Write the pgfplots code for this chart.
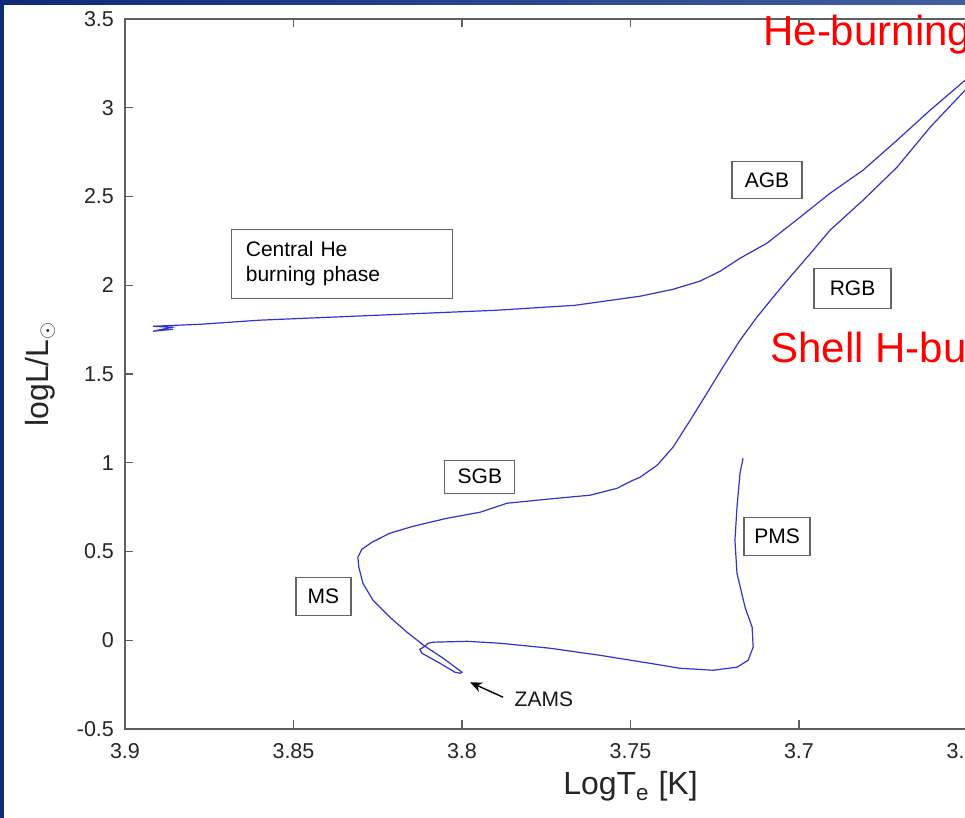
\documentclass[border=0pt]{standalone}
\usepackage{pgfplots}
\pgfplotsset{compat=1.18}
\usepackage{fontspec}
\setmainfont{Liberation Sans}
\usetikzlibrary{arrows.meta}
\definecolor{slideblue}{RGB}{14,44,118}
\definecolor{slideblue2}{RGB}{64,94,160}
\definecolor{trackblue}{RGB}{50,50,205}
\definecolor{axisgray}{RGB}{95,95,95}
\definecolor{boxgray}{RGB}{100,100,100}

\pgfplotstableread{
x y
3.7166 1.025
3.7175 0.941
3.7184 0.749
3.7190 0.563
3.7184 0.377
3.7160 0.186
3.7139 0.073
3.7136 -0.039
3.7151 -0.113
3.7184 -0.152
3.7255 -0.169
3.7353 -0.158
3.7442 -0.130
3.7590 -0.085
3.7739 -0.045
3.7887 -0.017
3.7985 -0.006
3.8086 -0.011
3.8101 -0.017
3.8110 -0.034
3.8125 -0.051
3.8119 -0.073
3.8065 -0.130
3.8021 -0.180
3.8006 -0.186
3.8000 -0.180
3.8012 -0.163
3.8056 -0.101
3.8101 -0.045
3.8110 -0.034
3.8163 0.045
3.8214 0.130
3.8264 0.225
3.8294 0.321
3.8306 0.411
3.8309 0.468
3.8297 0.513
3.8267 0.552
3.8214 0.603
3.8145 0.642
3.8045 0.687
3.7947 0.721
3.7866 0.772
3.7718 0.800
3.7620 0.817
3.7540 0.856
3.7493 0.901
3.7472 0.918
3.7442 0.958
3.7421 0.986
3.7374 1.087
3.7323 1.239
3.7273 1.392
3.7226 1.538
3.7175 1.690
3.7125 1.820
3.7077 1.932
3.7027 2.045
3.6958 2.197
3.6908 2.310
3.6810 2.479
3.6709 2.665
3.6611 2.890
3.6507 3.099
3.6433 3.240
3.6374 3.350
}\trackone

\pgfplotstableread{
x y
3.8858 1.752
3.8917 1.741
3.8861 1.763
3.8917 1.769
3.8777 1.780
3.8602 1.803
3.8252 1.831
3.7899 1.859
3.7665 1.887
3.7472 1.938
3.7374 1.977
3.7294 2.023
3.7234 2.079
3.7175 2.152
3.7095 2.237
3.6997 2.383
3.6908 2.518
3.6810 2.648
3.6709 2.817
3.6611 2.986
3.6507 3.155
3.6404 3.313
}\tracktwo

\begin{document}
\begin{tikzpicture}[
  lbl/.style={draw=boxgray, line width=0.6pt, fill=white, text=black,
    font=\fontsize{10.5}{12.5}\selectfont, inner sep=0pt, anchor=center}]
\useasboundingbox (-62.5pt,-44.5pt) rectangle (420pt,364.5pt);
\clip (-62.5pt,-44.5pt) rectangle (420pt,364.5pt);
\shade[left color=slideblue, right color=slideblue2] (-62.5pt,-44.5pt) rectangle (420pt,364.5pt);
\fill[white] (-60.5pt,-44.5pt) rectangle (420pt,362pt);
\begin{axis}[
  at={(0pt,0pt)}, anchor=south west,
  scale only axis, width=505.5pt, height=355pt,
  x dir=reverse,
  xmin=3.6, xmax=3.9, ymin=-0.5, ymax=3.5,
  xtick={3.6,3.65,3.7,3.75,3.8,3.85,3.9},
  xticklabels={3.6,3.65,3.7,3.75,3.8,3.85,3.9},
  ytick={-0.5,0,0.5,1,1.5,2,2.5,3,3.5},
  yticklabels={-0.5,0,0.5,1,1.5,2,2.5,3,3.5},
  /pgf/number format/assume math mode=true,
  tick align=inside,
  major tick length=4.25pt,
  axis line style={axisgray, line width=0.65pt},
  tick style={axisgray, line width=0.6pt},
  ticklabel style={text=black!85, font=\fontsize{10.75}{12}\selectfont},
  xticklabel style={yshift=-3.5pt},
  yticklabel style={xshift=-2pt},
  clip mode=individual,
  xlabel={LogT\textsubscript{e} [K]},
  ylabel={logL/L$_{\odot}$},
  every axis x label/.style={at={(axis description cs:0.5,0)}, anchor=base, yshift=-33pt,
    font=\fontsize{16}{18}\selectfont, text=black!85},
  every axis y label/.style={at={(axis description cs:0,0.5)}, anchor=center, rotate=90,
    yshift=42.5pt, font=\fontsize{16}{18}\selectfont, text=black!85},
]
\addplot[trackblue, line width=0.6pt] table[x=x,y=y] {\trackone};
\addplot[trackblue, line width=0.6pt] table[x=x,y=y] {\tracktwo};

\node[lbl, minimum width=35pt, minimum height=18.5pt] at (axis cs:3.7095,2.594) {AGB};
\node[lbl, minimum width=38.5pt, minimum height=20pt] at (axis cs:3.6841,1.983) {RGB};
\node[lbl, minimum height=34.5pt, inner xsep=7pt, text width=96.5pt, align=left] at (axis cs:3.8355,2.121) {Central He\\burning phase};
\node[lbl, minimum width=35pt, minimum height=16.5pt] at (axis cs:3.7947,0.921) {SGB};
\node[lbl, minimum width=27.5pt, minimum height=19pt] at (axis cs:3.8411,0.248) {MS};
\node[lbl, minimum width=33pt, minimum height=19pt] at (axis cs:3.7065,0.586) {PMS};

\draw[-{Stealth[length=6pt,width=5pt]}, line width=0.7pt, black] (axis cs:3.7878,-0.321) -- (axis cs:3.7976,-0.237);
\node[anchor=center, font=\fontsize{10.5}{12}\selectfont, text=black!90] at (axis cs:3.7757,-0.332) {ZAMS};

\node[anchor=base west, inner sep=0pt, text=red, font=\fontsize{21}{24}\selectfont] at (axis cs:3.7107,3.352) {He-burning shell};
\node[anchor=base west, inner sep=0pt, text=red, font=\fontsize{21}{24}\selectfont] at (axis cs:3.7086,1.566) {Shell H-burning};
\end{axis}
\end{tikzpicture}
\end{document}
